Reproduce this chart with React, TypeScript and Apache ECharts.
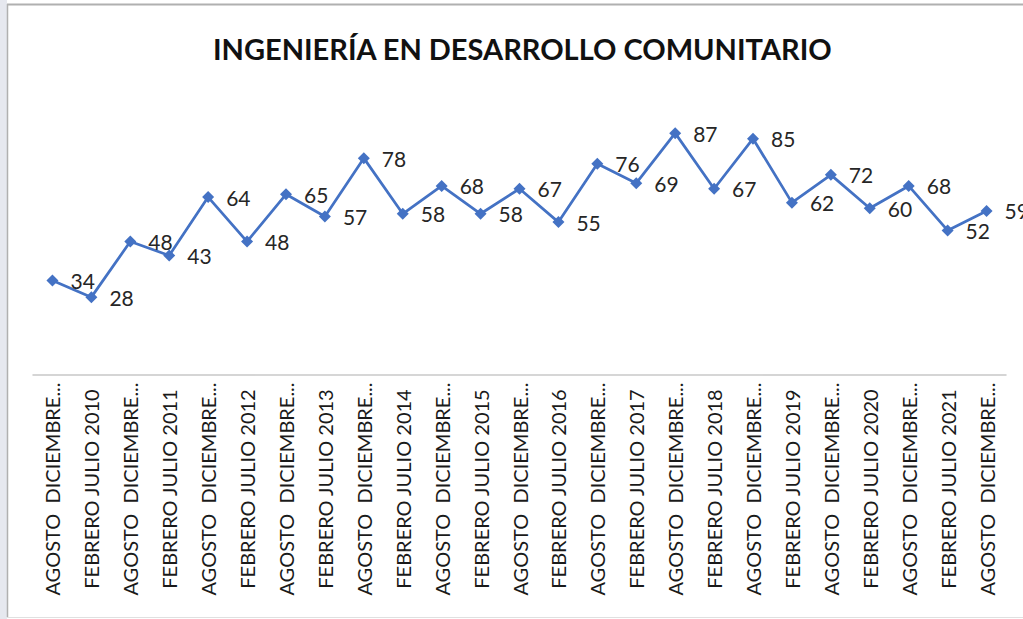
import React, { useEffect, useRef } from "react";
import * as echarts from "echarts";

const TITLE = "INGENIERÍA EN DESARROLLO COMUNITARIO";

const categories = [
  "AGOSTO  DICIEMBRE 2009",
  "FEBRERO JULIO 2010",
  "AGOSTO  DICIEMBRE 2010",
  "FEBRERO JULIO 2011",
  "AGOSTO  DICIEMBRE 2011",
  "FEBRERO JULIO 2012",
  "AGOSTO  DICIEMBRE 2012",
  "FEBRERO JULIO 2013",
  "AGOSTO  DICIEMBRE 2013",
  "FEBRERO JULIO 2014",
  "AGOSTO  DICIEMBRE 2014",
  "FEBRERO JULIO 2015",
  "AGOSTO  DICIEMBRE 2015",
  "FEBRERO JULIO 2016",
  "AGOSTO  DICIEMBRE 2016",
  "FEBRERO JULIO 2017",
  "AGOSTO  DICIEMBRE 2017",
  "FEBRERO JULIO 2018",
  "AGOSTO  DICIEMBRE 2018",
  "FEBRERO JULIO 2019",
  "AGOSTO  DICIEMBRE 2019",
  "FEBRERO JULIO 2020",
  "AGOSTO  DICIEMBRE 2020",
  "FEBRERO JULIO 2021",
  "AGOSTO  DICIEMBRE 2021",
];

const values = [34, 28, 48, 43, 64, 48, 65, 57, 78, 58, 68, 58, 67, 55, 76, 69, 87, 67, 85, 62, 72, 60, 68, 52, 59];

const FONT = "Lato";

export default function App() {
  const ref = useRef<HTMLDivElement>(null);
  useEffect(() => {
    if (!ref.current) return;
    const chart = echarts.init(ref.current, null, { renderer: "svg" });
    chart.setOption({
      animation: false,
      backgroundColor: "#ffffff",
      title: {
        text: TITLE,
        left: 208,
        top: 29,
        textStyle: { fontFamily: FONT, fontSize: 29, fontWeight: "bold", color: "#111111" },
      },
      grid: { left: 33, right: 17, top: 97, bottom: 244, containLabel: false },
      xAxis: {
        type: "category",
        data: categories,
        boundaryGap: true,
        axisLine: { lineStyle: { color: "#c8c8c8", width: 1.5 } },
        axisTick: { show: false },
        axisLabel: {
          rotate: 90,
          interval: 0,
          margin: 114,
          align: "center",
          verticalAlign: "middle",
          fontFamily: FONT,
          fontSize: 20,
          color: "#1a1a1a",
          width: 219,
          overflow: "truncate",
          ellipsis: "...",
        },
      },
      yAxis: {
        type: "value",
        min: 0,
        max: 100,
        show: false,
        splitLine: { show: false },
      },
      series: [
        {
          type: "line",
          data: values,
          symbol: "diamond",
          symbolSize: 12,
          lineStyle: { color: "#4472C4", width: 2.75 },
          itemStyle: { color: "#4472C4" },
          label: {
            show: true,
            position: "right",
            distance: 12,
            fontFamily: FONT,
            fontSize: 21,
            color: "#262626",
          },
        },
      ],
      graphic: [
        { type: "rect", shape: { x: 0, y: 0, width: 7, height: 619 }, style: { fill: "#e6e8ef" } },
        { type: "line", shape: { x1: 7, y1: 4.5, x2: 1023, y2: 4.5 }, style: { stroke: "#b0b0b0", lineWidth: 2 } },
        { type: "line", shape: { x1: 7.5, y1: 4, x2: 7.5, y2: 617 }, style: { stroke: "#b0b0b0", lineWidth: 1.5 } },
        { type: "line", shape: { x1: 7, y1: 617.5, x2: 1023, y2: 617.5 }, style: { stroke: "#e0e0e0", lineWidth: 1 } },
      ],
    });
    return () => chart.dispose();
  }, []);
  return (
    <div
      ref={ref}
      style={{ position: "fixed", left: 0, top: 0, width: 1023, height: 619, background: "#fff" }}
    />
  );
}
